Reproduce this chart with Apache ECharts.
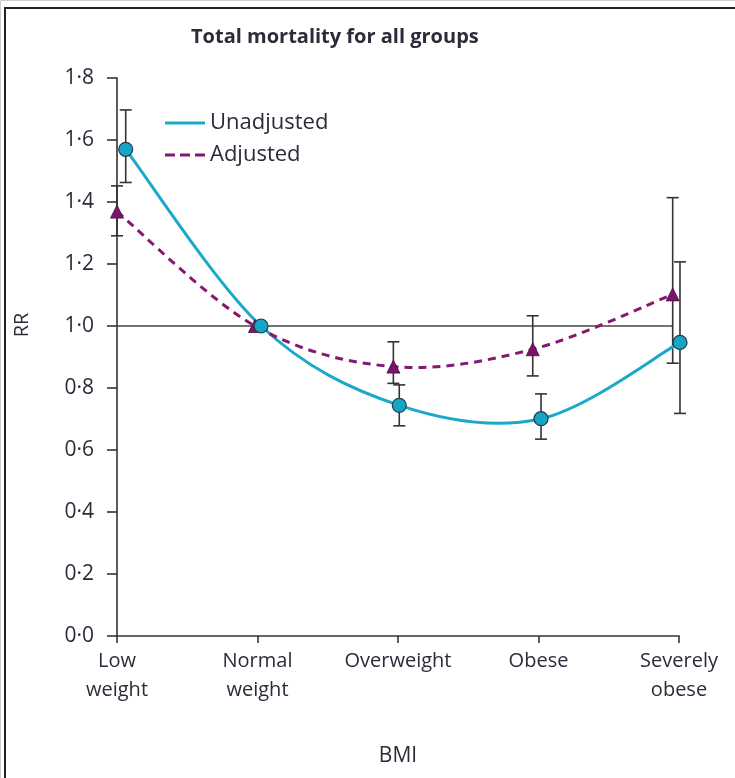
<!DOCTYPE html>
<html>
<head>
<meta charset="utf-8">
<script src="https://cdn.jsdelivr.net/npm/echarts@6/dist/echarts.min.js"></script>
<style>
  html, body { margin: 0; padding: 0; background: #fff; }
  #chart { width: 735px; height: 778px; }
</style>
</head>
<body>
<div id="chart"></div>
<script>
var categories = ['Low\nweight', 'Normal\nweight', 'Overweight', 'Obese', 'Severely\nobese'];

// x positions are slightly dodged around each category, as in the figure
var unadjX = [0.062, 1.025, 2.009, 3.018, 4.007];
var unadjRR = [1.57, 1.0, 0.744, 0.701, 0.947];
var unadjLow = [1.463, 1.0, 0.678, 0.635, 0.718];
var unadjHigh = [1.697, 1.0, 0.81, 0.781, 1.207];

var adjX = [0.0, 0.982, 1.967, 2.959, 3.955];
var adjRR = [1.369, 1.0, 0.869, 0.925, 1.102];
var adjLow = [1.291, 1.0, 0.815, 0.839, 0.88];
var adjHigh = [1.452, 1.0, 0.949, 1.033, 1.414];

var refLine = [[0, 1.0], [3.955, 1.0]];

var fontFam = "'Open Sans', sans-serif";
var txtColor = '#2b2b3a';
var cyan = '#1aa8cb';
var purple = '#86196f';

function pairs(xs, ys) {
    var out = [];
    for (var i = 0; i < xs.length; i++) out.push([xs[i], ys[i]]);
    return out;
}
function bars(xs, lo, hi) {
    var out = [];
    for (var i = 0; i < xs.length; i++) {
        if (lo[i] != hi[i]) out.push([xs[i], lo[i], hi[i]]);
    }
    return out;
}

function renderErrorBar(params, api) {
    var x = api.value(0);
    var p1 = api.coord([x, api.value(1)]);
    var p2 = api.coord([x, api.value(2)]);
    var w = 6;
    var st = { stroke: '#333', lineWidth: 1.6 };
    return {
        type: 'group',
        children: [
            { type: 'line', shape: { x1: p1[0], y1: p1[1], x2: p2[0], y2: p2[1] }, style: st },
            { type: 'line', shape: { x1: p1[0] - w, y1: p1[1], x2: p1[0] + w, y2: p1[1] }, style: st },
            { type: 'line', shape: { x1: p2[0] - w, y1: p2[1], x2: p2[0] + w, y2: p2[1] }, style: st }
        ]
    };
}

// catmull-rom curve through all the points of the series, drawn once
function curveRenderer(color, dash) {
    return function (params, api) {
        if (params.dataIndexInside !== 0) return null;
        var n = params.dataInsideLength;
        var pts = [];
        for (var i = 0; i < n; i++) {
            pts.push(api.coord([api.value(0, i), api.value(1, i)]));
        }
        var d = 'M' + pts[0][0] + ',' + pts[0][1];
        for (var i = 0; i < n - 1; i++) {
            var p0 = pts[i - 1] || pts[i];
            var p1 = pts[i];
            var p2 = pts[i + 1];
            var p3 = pts[i + 2] || pts[i + 1];
            var c1x = p1[0] + (p2[0] - p0[0]) / 6;
            var c1y = p1[1] + (p2[1] - p0[1]) / 6;
            var c2x = p2[0] - (p3[0] - p1[0]) / 6;
            var c2y = p2[1] - (p3[1] - p1[1]) / 6;
            d += ' C' + c1x + ',' + c1y + ' ' + c2x + ',' + c2y + ' ' + p2[0] + ',' + p2[1];
        }
        return {
            type: 'path',
            shape: { pathData: d },
            style: { fill: 'none', stroke: color, lineWidth: 3, lineDash: dash }
        };
    };
}

var chart = echarts.init(document.getElementById('chart'));

var option = {
    animation: false,
    backgroundColor: '#fff',
    title: {
        text: 'Total mortality for all groups',
        left: 186,
        top: 22,
        textStyle: { fontFamily: fontFam, fontSize: 20, fontWeight: 'bold', color: txtColor }
    },
    graphic: [
        { type: 'rect', shape: { x: 0.5, y: 0.5, width: 800, height: 800 }, style: { fill: 'none', stroke: '#ccc', lineWidth: 1 } },
        { type: 'rect', shape: { x: 5, y: 8, width: 800, height: 800 }, style: { fill: 'none', stroke: '#222', lineWidth: 2 } },
        {
            type: 'text', x: 22, y: 325, rotation: Math.PI / 2,
            style: { text: 'RR', fontFamily: fontFam, fontSize: 20, fill: txtColor, align: 'center', verticalAlign: 'middle' }
        }
    ],
    legend: {
        orient: 'vertical',
        left: 160,
        top: 105,
        itemWidth: 40,
        itemHeight: 3,
        itemGap: 6,
        data: [
            { name: 'Unadjusted', icon: 'path://M0,0H40V3H0Z' },
            { name: 'Adjusted', icon: 'path://M0,0H10V3H0Z M15,0H25V3H15Z M30,0H40V3H30Z' }
        ],
        textStyle: { fontFamily: fontFam, fontSize: 22, lineHeight: 26, color: txtColor }
    },
    grid: { left: 117, right: 56, top: 78, bottom: 142, containLabel: false },
    xAxis: {
        type: 'value',
        min: 0,
        max: 4,
        interval: 1,
        name: 'BMI',
        nameLocation: 'middle',
        nameGap: 110,
        nameTextStyle: { fontFamily: fontFam, fontSize: 21, color: txtColor },
        splitLine: { show: false },
        axisLine: { lineStyle: { color: '#333', width: 1.6 } },
        axisTick: { length: 7, lineStyle: { color: '#333', width: 1.6 } },
        axisLabel: {
            fontFamily: fontFam,
            fontSize: 20,
            lineHeight: 29,
            color: txtColor,
            margin: 11,
            formatter: function (v) { return categories[Math.round(v)]; }
        }
    },
    yAxis: {
        type: 'value',
        min: 0,
        max: 1.8,
        interval: 0.2,
        splitLine: { show: false },
        axisLine: { show: true, lineStyle: { color: '#333', width: 1.6 } },
        axisTick: { show: true, length: 10, lineStyle: { color: '#333', width: 1.6 } },
        axisLabel: {
            fontFamily: fontFam,
            fontSize: 21,
            color: txtColor,
            margin: 23,
            formatter: function (v) { return v.toFixed(1).replace('.', '\u00b7'); }
        }
    },
    series: [
        {
            name: 'ref',
            type: 'line',
            data: refLine,
            symbol: 'none',
            lineStyle: { color: '#444', width: 1.6 },
            z: 1
        },
        {
            name: 'errUnadj',
            type: 'custom',
            renderItem: renderErrorBar,
            data: bars(unadjX, unadjLow, unadjHigh),
            clip: false,
            z: 2
        },
        {
            name: 'errAdj',
            type: 'custom',
            renderItem: renderErrorBar,
            data: bars(adjX, adjLow, adjHigh),
            clip: false,
            z: 2
        },
        {
            name: 'Unadjusted',
            type: 'custom',
            renderItem: curveRenderer(cyan, null),
            data: pairs(unadjX, unadjRR),
            itemStyle: { color: cyan },
            clip: false,
            z: 3
        },
        {
            name: 'Adjusted',
            type: 'custom',
            renderItem: curveRenderer(purple, [8, 6]),
            data: pairs(adjX, adjRR),
            itemStyle: { color: purple },
            clip: false,
            z: 3
        },
        {
            name: 'ptAdj',
            type: 'scatter',
            symbol: 'triangle',
            symbolSize: 13,
            data: pairs(adjX, adjRR),
            itemStyle: { color: '#7a1468', borderColor: '#4a0a40', borderWidth: 0.8, opacity: 1 },
            clip: false,
            z: 4
        },
        {
            name: 'ptUnadj',
            type: 'scatter',
            symbol: 'circle',
            symbolSize: 14,
            data: pairs(unadjX, unadjRR),
            itemStyle: { color: '#17a4c6', borderColor: '#1c3f4c', borderWidth: 1.2, opacity: 1 },
            clip: false,
            z: 5
        }
    ]
};

chart.setOption(option);
</script>
</body>
</html>
